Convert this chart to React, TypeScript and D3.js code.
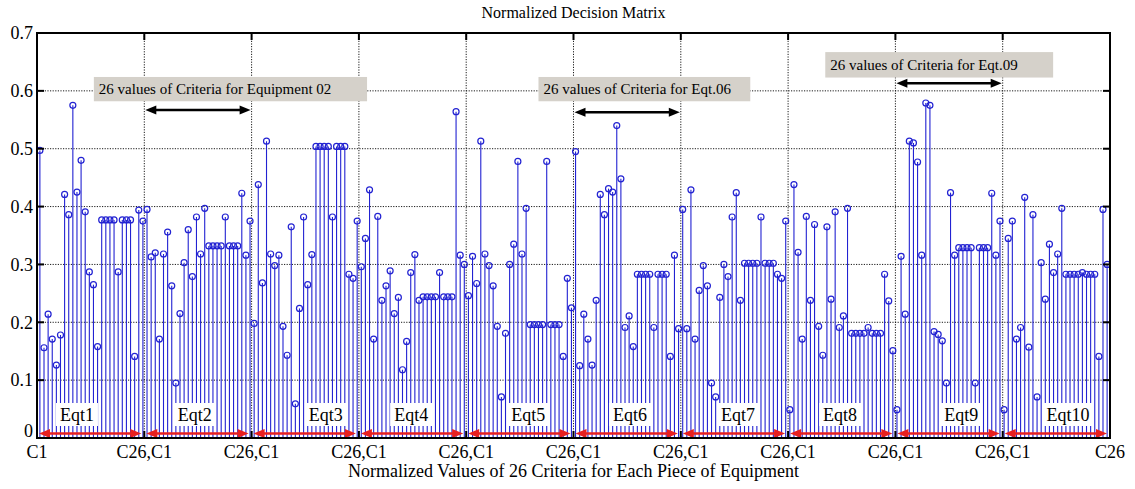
import * as d3 from 'd3';
import { useEffect, useRef } from 'react';

// normalized values, 26 criteria per equipment
const eqt1 = [0.497, 0.156, 0.214, 0.171, 0.126, 0.178, 0.421, 0.386, 0.575, 0.425, 0.48, 0.391, 0.287, 0.265, 0.158, 0.377, 0.377, 0.377, 0.377, 0.287, 0.377, 0.377, 0.377, 0.141, 0.394, 0.375];
const eqt2 = [0.395, 0.313, 0.32, 0.171, 0.318, 0.356, 0.263, 0.095, 0.215, 0.303, 0.36, 0.279, 0.382, 0.318, 0.397, 0.332, 0.332, 0.332, 0.332, 0.382, 0.332, 0.332, 0.332, 0.423, 0.316, 0.375];
const eqt3 = [0.198, 0.438, 0.268, 0.513, 0.318, 0.298, 0.316, 0.193, 0.143, 0.365, 0.059, 0.224, 0.382, 0.265, 0.317, 0.504, 0.504, 0.504, 0.504, 0.382, 0.504, 0.504, 0.504, 0.283, 0.276, 0.375];
const eqt4 = [0.296, 0.345, 0.429, 0.171, 0.383, 0.238, 0.263, 0.289, 0.215, 0.243, 0.118, 0.167, 0.286, 0.317, 0.238, 0.244, 0.244, 0.244, 0.244, 0.286, 0.244, 0.244, 0.244, 0.564, 0.316, 0.3];
const eqt5 = [0.246, 0.314, 0.267, 0.513, 0.318, 0.298, 0.263, 0.193, 0.071, 0.181, 0.3, 0.335, 0.478, 0.318, 0.397, 0.196, 0.196, 0.196, 0.196, 0.478, 0.196, 0.196, 0.196, 0.141, 0.276, 0.225];
const eqt6 = [0.495, 0.125, 0.214, 0.171, 0.126, 0.238, 0.421, 0.386, 0.431, 0.425, 0.54, 0.448, 0.191, 0.211, 0.158, 0.283, 0.283, 0.283, 0.283, 0.191, 0.283, 0.283, 0.283, 0.141, 0.316, 0.189];
const eqt7 = [0.395, 0.189, 0.429, 0.171, 0.255, 0.298, 0.263, 0.095, 0.071, 0.243, 0.3, 0.279, 0.382, 0.424, 0.238, 0.302, 0.302, 0.302, 0.302, 0.382, 0.302, 0.302, 0.302, 0.283, 0.276, 0.375];
const eqt8 = [0.049, 0.438, 0.321, 0.171, 0.383, 0.238, 0.369, 0.193, 0.143, 0.365, 0.24, 0.391, 0.191, 0.211, 0.397, 0.181, 0.181, 0.181, 0.181, 0.191, 0.181, 0.181, 0.181, 0.283, 0.237, 0.151];
const eqt9 = [0.049, 0.314, 0.214, 0.513, 0.51, 0.477, 0.316, 0.579, 0.575, 0.184, 0.179, 0.168, 0.095, 0.424, 0.316, 0.329, 0.329, 0.329, 0.329, 0.095, 0.329, 0.329, 0.329, 0.423, 0.316, 0.375];
const eqt10 = [0.049, 0.345, 0.375, 0.171, 0.191, 0.416, 0.157, 0.386, 0.071, 0.303, 0.24, 0.335, 0.286, 0.318, 0.397, 0.283, 0.283, 0.283, 0.283, 0.286, 0.283, 0.283, 0.283, 0.141, 0.395, 0.3];

const equipment = [eqt1, eqt2, eqt3, eqt4, eqt5, eqt6, eqt7, eqt8, eqt9, eqt10];
const eqtLabels = ['Eqt1', 'Eqt2', 'Eqt3', 'Eqt4', 'Eqt5', 'Eqt6', 'Eqt7', 'Eqt8', 'Eqt9', 'Eqt10'];
const xTickLabels = ['C1', 'C26,C1', 'C26,C1', 'C26,C1', 'C26,C1', 'C26,C1', 'C26,C1', 'C26,C1', 'C26,C1', 'C26,C1', 'C26'];
const yTicks = [0, 0.1, 0.2, 0.3, 0.4, 0.5, 0.6, 0.7];
const noteTexts = ['26 values of Criteria for Equipment 02', '26 values of Criteria for Eqt.06', '26 values of Criteria for Eqt.09'];

const FONT = '"Liberation Serif", serif';
const BLUE = '#2222d2';
const RED = '#e82020';

export default function App() {
    const ref = useRef<SVGSVGElement | null>(null);

    useEffect(() => {
        if (!ref.current) return;
        document.body.style.margin = '0';
        const svg = d3.select(ref.current);
        svg.selectAll('*').remove();

        const width = 1135;
        const height = 489;
        const margin = { top: 33, right: 25, bottom: 51, left: 37 };
        const values = equipment.flat();

        const xMin = 0.3;
        const xMax = 260.7;
        const x = d3.scaleLinear().domain([xMin, xMax]).range([margin.left, width - margin.right]);
        const y = d3.scaleLinear().domain([0, 0.7]).range([height - margin.bottom, margin.top]);
        const xTicks = xTickLabels.map((_, k) => xMin + (k * (xMax - xMin)) / 10);

        const x0 = x.range()[0];
        const x1 = x.range()[1];
        const y0 = y.range()[0];
        const y1 = y.range()[1];

        // title
        svg.append('text')
            .attr('x', (x0 + x1) / 2)
            .attr('y', 18)
            .attr('text-anchor', 'middle')
            .style('font-family', FONT)
            .style('font-size', '16px')
            .text('Normalized Decision Matrix');

        // grid (dotted)
        const grid = svg.append('g').attr('stroke', '#000').attr('stroke-width', 0.9).attr('stroke-dasharray', '1.2,1.4');
        grid.selectAll('line.gx')
            .data(xTicks.slice(1, -1))
            .join('line')
            .attr('x1', (d) => x(d))
            .attr('x2', (d) => x(d))
            .attr('y1', y1)
            .attr('y2', y0);
        grid.selectAll('line.gy')
            .data(yTicks.slice(1, -1))
            .join('line')
            .attr('x1', x0)
            .attr('x2', x1)
            .attr('y1', (d) => y(d))
            .attr('y2', (d) => y(d));

        // stems
        const stems = svg.append('g');
        stems.selectAll('line')
            .data(values)
            .join('line')
            .attr('x1', (_, i) => x(i + 1))
            .attr('x2', (_, i) => x(i + 1))
            .attr('y1', y(0))
            .attr('y2', (d) => y(d))
            .attr('stroke', BLUE)
            .attr('stroke-width', 1.1);
        stems.selectAll('circle')
            .data(values)
            .join('circle')
            .attr('cx', (_, i) => x(i + 1))
            .attr('cy', (d) => y(d))
            .attr('r', 3)
            .attr('fill', 'none')
            .attr('stroke', BLUE)
            .attr('stroke-width', 1.2);

        // arrow helper
        const arrow = (g: any, xa: number, xb: number, yy: number, color: string, w: number, hl: number, hw: number) => {
            g.append('line')
                .attr('x1', xa + hl * 0.8)
                .attr('x2', xb - hl * 0.8)
                .attr('y1', yy)
                .attr('y2', yy)
                .attr('stroke', color)
                .attr('stroke-width', w);
            g.append('path')
                .attr('d', `M${xa},${yy} L${xa + hl},${yy - hw} L${xa + hl},${yy + hw} Z`)
                .attr('fill', color);
            g.append('path')
                .attr('d', `M${xb},${yy} L${xb - hl},${yy - hw} L${xb - hl},${yy + hw} Z`)
                .attr('fill', color);
        };

        // Eqt labels with white boxes
        const eqtLabelPos = [10, 38.6, 70.4, 91.1, 119.5, 144.2, 170.4, 195.2, 224.6, 250.5];
        const labels = svg.append('g');
        eqtLabels.forEach((lab, k) => {
            const t = labels.append('text')
                .attr('x', x(eqtLabelPos[k]))
                .attr('y', 421)
                .attr('text-anchor', 'middle')
                .style('font-family', FONT)
                .style('font-size', '18px')
                .text(lab);
            const bb = (t.node() as SVGTextElement).getBBox();
            labels.insert('rect', 'text')
                .attr('x', bb.x - 4)
                .attr('y', 403)
                .attr('width', bb.width + 8)
                .attr('height', 23)
                .attr('fill', '#fff');
        });

        // red segment arrows along the bottom
        const red = svg.append('g');
        xTicks.slice(0, -1).forEach((t, k) => {
            arrow(red, x(t) + 2, x(xTicks[k + 1]) - 3, 433.5, RED, 2.4, 11, 4.5);
        });

        // grey notes with black arrows
        const notes = [
            { x: [14.1, 80.4], y: [0.624, 0.582], arrow: [1, 2], ay: 0.567 },
            { x: [122.0, 173.4], y: [0.624, 0.582], arrow: [5, 6], ay: 0.563 },
            { x: [191.6, 246.9], y: [0.667, 0.623], arrow: [8, 9], ay: 0.613 },
        ];
        const ng = svg.append('g');
        notes.forEach((n, k) => {
            ng.append('rect')
                .attr('x', x(n.x[0]))
                .attr('y', y(n.y[0]))
                .attr('width', x(n.x[1]) - x(n.x[0]))
                .attr('height', y(n.y[1]) - y(n.y[0]))
                .attr('fill', '#d5d1ca');
            ng.append('text')
                .attr('x', x(n.x[0]) + 5)
                .attr('y', (y(n.y[0]) + y(n.y[1])) / 2 + 5)
                .style('font-family', FONT)
                .style('font-size', '15px')
                .text(noteTexts[k]);
            arrow(ng, x(xTicks[n.arrow[0]]) + 1, x(xTicks[n.arrow[1]]) - 1, y(n.ay), '#000', 2.5, 11, 4.5);
        });

        // axes box + inward ticks
        const ax = svg.append('g');
        ax.append('rect')
            .attr('x', x0)
            .attr('y', y1)
            .attr('width', x1 - x0)
            .attr('height', y0 - y1)
            .attr('fill', 'none')
            .attr('stroke', '#000')
            .attr('stroke-width', 2);
        xTicks.forEach((t) => {
            ax.append('line').attr('x1', x(t)).attr('x2', x(t)).attr('y1', y1).attr('y2', y1 + 7).attr('stroke', '#000').attr('stroke-width', 2);
            ax.append('line').attr('x1', x(t)).attr('x2', x(t)).attr('y1', y0).attr('y2', y0 - 7).attr('stroke', '#000').attr('stroke-width', 2);
        });
        yTicks.forEach((t) => {
            ax.append('line').attr('x1', x0).attr('x2', x0 + 7).attr('y1', y(t)).attr('y2', y(t)).attr('stroke', '#000').attr('stroke-width', 2);
            ax.append('line').attr('x1', x1).attr('x2', x1 - 7).attr('y1', y(t)).attr('y2', y(t)).attr('stroke', '#000').attr('stroke-width', 2);
        });

        // tick labels
        ax.selectAll('text.yl')
            .data(yTicks)
            .join('text')
            .attr('x', x0 - 4)
            .attr('y', (d) => y(d))
            .attr('dy', (d) => (d === 0 ? '-0.05em' : '0.35em'))
            .attr('text-anchor', 'end')
            .style('font-family', FONT)
            .style('font-size', '18px')
            .text((d) => d3.format('~g')(d));
        svg.append('g')
            .selectAll('text')
            .data(xTicks)
            .join('text')
            .attr('x', (d) => x(d))
            .attr('y', 458)
            .attr('text-anchor', 'middle')
            .style('font-family', FONT)
            .style('font-size', '18px')
            .text((_, i) => xTickLabels[i]);

        svg.append('text')
            .attr('x', (x0 + x1) / 2)
            .attr('y', 477)
            .attr('text-anchor', 'middle')
            .style('font-family', FONT)
            .style('font-size', '18px')
            .text('Normalized Values of 26 Criteria for Each Piece of Equipment');
    }, []);

    return <svg ref={ref} width={1135} height={489} style={{ display: 'block', background: '#fff' }} />;
}
